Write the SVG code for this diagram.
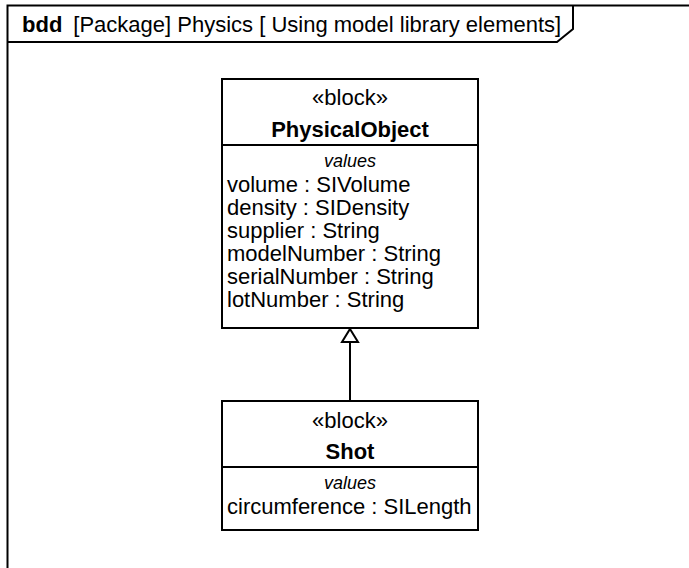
<svg xmlns="http://www.w3.org/2000/svg" width="689" height="568" viewBox="0 0 689 568">
<style>
text{font-family:"Liberation Sans",Arial,sans-serif;font-size:22px;fill:#000}
.c{text-anchor:middle}
.b{font-weight:bold}
.i{font-style:italic;font-size:18px}
.box{fill:#fff;stroke:#000;stroke-width:2}
.ln{stroke:#000;stroke-width:2;fill:none}
</style>
<rect width="689" height="568" fill="#fff"/>
<g id="frame">
<rect x="7.5" y="5.5" width="720" height="600" class="ln"/>
<path d="M7.5 42 H557 L573 29 V5.5" class="ln"/>
<text x="22" y="32"><tspan class="b">bdd</tspan><tspan dx="11">[Package] Physics [ Using model library elements]</tspan></text>
</g>
<g id="PhysicalObject">
<rect x="222" y="79" width="256" height="249" class="box"/>
<line x1="222" y1="145" x2="478" y2="145" class="ln"/>
<text x="350" y="105" class="c">«block»</text>
<text x="350" y="137" class="c b">PhysicalObject</text>
<text x="350" y="167" class="c i">values</text>
<text x="227" y="192">volume : SIVolume</text>
<text x="227" y="215">density : SIDensity</text>
<text x="227" y="238">supplier : String</text>
<text x="227" y="261">modelNumber : String</text>
<text x="227" y="284">serialNumber : String</text>
<text x="227" y="307">lotNumber : String</text>
</g>
<g id="Shot">
<rect x="222" y="401" width="256" height="129" class="box"/>
<line x1="222" y1="467" x2="478" y2="467" class="ln"/>
<text x="350" y="428" class="c">«block»</text>
<text x="350" y="459" class="c b">Shot</text>
<text x="350" y="489" class="c i">values</text>
<text x="227" y="514">circumference : SILength</text>
</g>
<g id="connectors">
<line x1="350" y1="401" x2="350" y2="342" class="ln"/>
<path d="M350 329 L358 342 H342 Z" fill="#fff" stroke="#000" stroke-width="2"/>
</g>
</svg>
